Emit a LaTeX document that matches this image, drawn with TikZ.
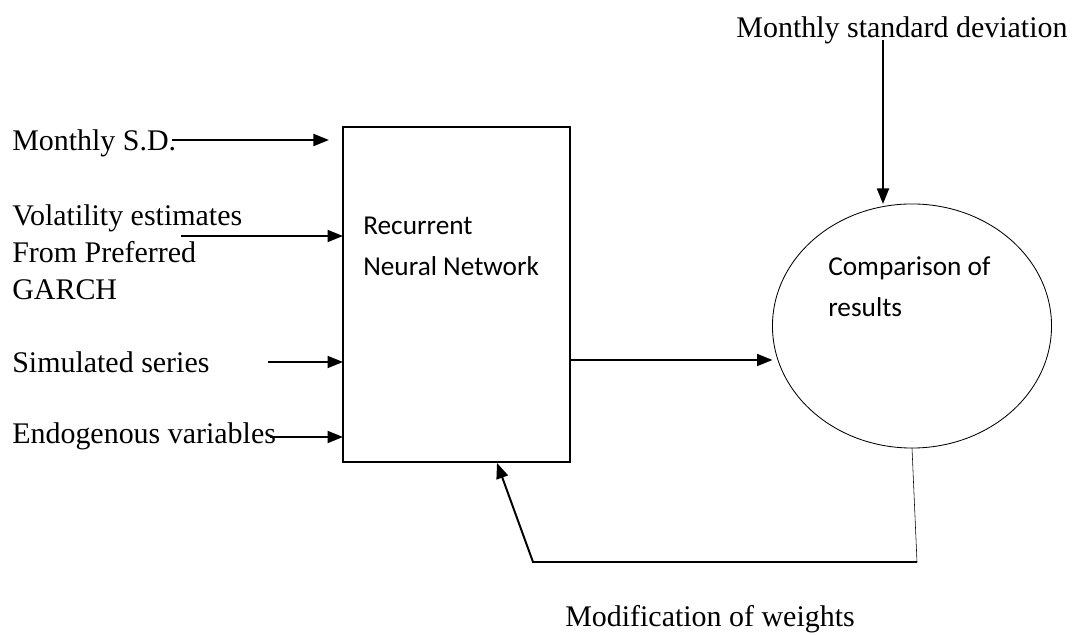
\documentclass[tikz,border=0pt]{standalone}
\usepackage{fontspec}
\setmainfont{Liberation Serif}
\newfontfamily\calfont{Carlito}
\usetikzlibrary{arrows.meta,shapes.geometric}
\begin{document}
\begin{tikzpicture}[x=0.025cm,y=-0.025cm,>={Triangle[length=11pt,width=8.5pt]},
  lbl/.style={anchor=west,align=left,inner sep=0pt,font=\fontsize{21.3}{26.2}\selectfont},
  inbox/.style={anchor=west,align=left,inner sep=0pt,font=\calfont\fontsize{19.4}{29}\selectfont},
  flow/.style={->,line width=1.4pt}]
\useasboundingbox (0,0) rectangle (1074,635);
% blocks
\node (rnn) [draw,line width=1.3pt,inner sep=0pt,outer sep=0pt,minimum width=5.675cm,minimum height=8.375cm,anchor=north west] at (343,127) {};
\node (cmp) [draw,ellipse,semithick,inner sep=0pt,outer sep=0pt,minimum width=6.975cm,minimum height=6.1cm] at (912,326) {};
\node (rnntxt) [inbox] at (363,246) {Recurrent\\Neural Network};
\node (cmptxt) [inbox] at (828,287) {Comparison of\\results};
% labels
\node (sd) [lbl] at (12,143) {Monthly S.D.};
\node (vol) [lbl] at (12,252) {Volatility estimates\\From Preferred\\GARCH};
\node (sim) [lbl] at (12,362) {Simulated series};
\node (endo) [lbl] at (12,436) {Endogenous variables};
\node (msd) [lbl,anchor=center] at (902,30) {Monthly standard deviation};
\node (mod) [lbl,anchor=center] at (710,619) {Modification of weights};
% tails of the arrows
\coordinate (T1) at (172,140);
\coordinate (T2) at (181,236);
\coordinate (T3) at (268,362);
\coordinate (T4) at (270,437);
\coordinate (top) at (883,40);
\coordinate (out) at (570,360);
\coordinate (fbr) at (917,562);
\coordinate (fbl) at (533,562);
\coordinate (fbin) at (497,463);
\draw[flow,shorten >=10] (T1) -- (T1 -| rnn.west);
\foreach \i in {2,3,4}
{
    \draw[flow](T\i) -- (T\i -| rnn.west);
}
\draw[flow] (top) -- (top |- cmp.north);
\draw[flow] (out) -- (out -| cmp.west);
\draw[thin] (cmp.south) -- (fbr);
\draw[flow] (fbr) -- (fbl) -- (fbin);
\end{tikzpicture}
\end{document}
